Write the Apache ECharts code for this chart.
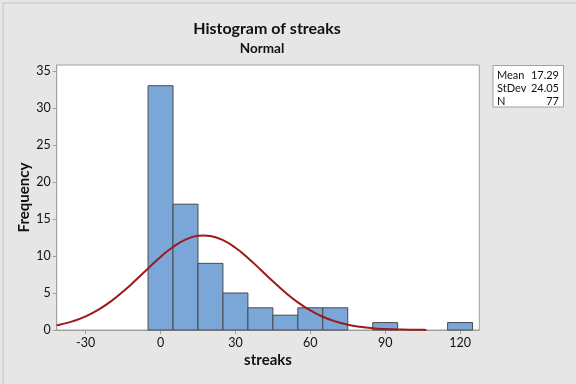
<!DOCTYPE html>
<html>
<head>
<meta charset="utf-8">
<script src="https://cdn.jsdelivr.net/npm/echarts@6/dist/echarts.min.js"></script>
<style>
html,body{margin:0;padding:0;background:#e6e6e6;}
#chart{width:576px;height:384px;}
</style>
</head>
<body>
<div id="chart"></div>
<script>
// Histogram bins (centers, width 10) and counts
const binCenters = [0, 10, 20, 30, 40, 50, 60, 70, 80, 90, 100, 110, 120];
const binCounts  = [33, 17, 9, 5, 3, 2, 3, 3, 0, 1, 0, 0, 1];
const binWidth = 10;
// Fitted normal curve
const curveX = [-41.6, -40, -35, -30, -25, -20, -15, -10, -5, 0, 5, 10, 15, 17.29, 20, 25, 30, 35, 40, 45, 50, 55, 60, 65, 70, 75, 80, 85, 90, 95, 100, 105, 106.5];
const curveY = [0.64, 0.75, 1.20, 1.85, 2.72, 3.84, 5.19, 6.71, 8.31, 9.87, 11.21, 12.20, 12.72, 12.77, 12.69, 12.13, 11.11, 9.74, 8.18, 6.58, 5.07, 3.74, 2.64, 1.79, 1.16, 0.72, 0.43, 0.24, 0.13, 0.07, 0.03, 0.02, 0.01];
const xTicks = [-30, 0, 30, 60, 90, 120];
const yTicks = [0, 5, 10, 15, 20, 25, 30, 35];
const statLabels = ['Mean', 'StDev', 'N'];
const statValues = ['17.29', '24.05', '77'];

const FONT = 'Lato';
const chart = echarts.init(document.getElementById('chart'), null, {renderer: 'canvas'});

const histData = binCenters.map((c, i) => [c - binWidth / 2, c + binWidth / 2, binCounts[i]]).filter(d => d[2] > 0);
const curveData = curveX.map((x, i) => [x, curveY[i]]);

const statGraphics = [];
statLabels.forEach((l, i) => {
  statGraphics.push({type: 'text', x: 497, y: 75.5 + i * 13,
    style: {text: l, font: '11px "' + FONT + '"', fill: '#111', verticalAlign: 'middle'}});
  statGraphics.push({type: 'text', x: 559, y: 75.5 + i * 13,
    style: {text: statValues[i], font: '11px "' + FONT + '"', fill: '#111', align: 'right', verticalAlign: 'middle'}});
});

chart.setOption({
  backgroundColor: '#e6e6e6',
  animation: false,
  title: [{
    text: 'Histogram of streaks',
    left: 262, top: 16, textAlign: 'center',
    textStyle: {fontFamily: FONT, fontSize: 16, fontWeight: 'bold', color: '#111'}
  }, {
    text: 'Normal',
    left: 257, top: 37, textAlign: 'center',
    textStyle: {fontFamily: FONT, fontSize: 13.5, fontWeight: 'bold', color: '#111'}
  }],
  grid: {left: 56.7, right: 96.7, top: 65, bottom: 54, show: true, backgroundColor: '#fff', borderColor: '#a0a0a0', borderWidth: 1},
  xAxis: {
    type: 'value', min: -41.6, max: 127.7,
    name: 'streaks', nameLocation: 'middle', nameGap: 23, nameMoveOverlap: false,
    nameTextStyle: {fontFamily: FONT, fontSize: 15, fontWeight: 'bold', color: '#111'},
    axisLine: {show: true, onZero: false, lineStyle: {color: '#a0a0a0'}},
    axisTick: {show: true, length: 4, lineStyle: {color: '#a0a0a0'}, customValues: xTicks},
    axisLabel: {fontFamily: FONT, fontSize: 12.5, color: '#111', margin: 6, customValues: xTicks},
    splitLine: {show: false}
  },
  yAxis: {
    type: 'value', min: 0, max: 35.8,
    name: 'Frequency', nameLocation: 'middle', nameGap: 25, nameRotate: 90, nameMoveOverlap: false,
    nameTextStyle: {fontFamily: FONT, fontSize: 15, fontWeight: 'bold', color: '#111'},
    axisLine: {show: true, onZero: false, lineStyle: {color: '#a0a0a0'}},
    axisTick: {show: true, length: 4, lineStyle: {color: '#a0a0a0'}, customValues: yTicks},
    axisLabel: {fontFamily: FONT, fontSize: 12.5, color: '#111', margin: 6, customValues: yTicks},
    splitLine: {show: false}
  },
  series: [{
    type: 'custom',
    data: histData,
    encode: {x: [0, 1], y: 2},
    renderItem: function (params, api) {
      const p0 = api.coord([api.value(0), api.value(2)]);
      const p1 = api.coord([api.value(1), 0]);
      return {
        type: 'rect',
        shape: {x: p0[0], y: p0[1], width: p1[0] - p0[0], height: p1[1] - p0[1]},
        style: {fill: '#7ba6d8', stroke: '#4a4a4a', lineWidth: 1}
      };
    },
    z: 2
  }, {
    type: 'line',
    data: curveData,
    smooth: true,
    showSymbol: false,
    lineStyle: {color: '#9c1a1a', width: 2},
    z: 3
  }],
  graphic: [{
    type: 'rect', left: 492.5, top: 65, z: 10,
    shape: {width: 70.5, height: 41.5},
    style: {fill: '#fff', stroke: '#a0a0a0', lineWidth: 1}
  }, {
    type: 'rect', left: 0.5, top: 0.5, z: -1,
    shape: {width: 575, height: 383},
    style: {fill: 'none', stroke: '#c4c4c4', lineWidth: 1}
  }].concat(statGraphics.map(g => Object.assign({z: 11}, g)))
});
</script>
</body>
</html>
